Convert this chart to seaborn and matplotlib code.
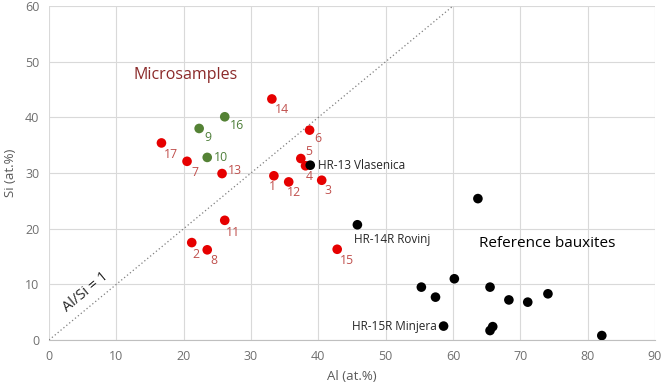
import pandas as pd
import numpy as np
import matplotlib
matplotlib.use("Agg")
from matplotlib import pyplot as plt
import seaborn as sns

# microsamples (red)
red_ids = ['1', '2', '3', '4', '5', '6', '7', '8', '11', '12', '13', '14', '15', '17']
red_al = [33.4, 21.2, 40.5, 38.1, 37.4, 38.7, 20.5, 23.5, 26.1, 35.6, 25.7, 33.1, 42.8, 16.7]
red_si = [29.5, 17.5, 28.7, 31.3, 32.6, 37.7, 32.1, 16.2, 21.5, 28.4, 29.9, 43.3, 16.3, 35.4]

# microsamples (green)
green_ids = ['9', '10', '16']
green_al = [22.3, 23.5, 26.1]
green_si = [38.0, 32.8, 40.1]

# reference bauxites
ref_names = ['HR-13 Vlasenica', 'HR-14R Rovinj', 'HR-15R Minjera',
             '', '', '', '', '', '', '', '', '', '', '']
ref_al = [38.8, 45.8, 58.6, 63.7, 55.3, 57.4, 60.2, 65.5, 68.3, 71.1, 74.1, 65.9, 65.5, 82.1]
ref_si = [31.4, 20.7, 2.5, 25.4, 9.5, 7.7, 11.0, 9.5, 7.2, 6.8, 8.3, 2.4, 1.7, 0.8]

# label offsets in pixels (dx, dy up-positive)
red_off = {'1': (-1, -11), '2': (4, -12), '3': (6, -10), '4': (4, -11), '5': (8, 7),
           '6': (8, -8), '7': (8, -11), '8': (7, -11), '11': (8, -12), '12': (5, -11),
           '13': (13, 3), '14': (10, -11), '15': (10, -11), '17': (9, -12)}
green_off = {'9': (9, -9), '10': (14, 0), '16': (12, -9)}

df = pd.concat([
    pd.DataFrame({'Al': red_al, 'Si': red_si, 'grp': 'red'}),
    pd.DataFrame({'Al': green_al, 'Si': green_si, 'grp': 'green'}),
    pd.DataFrame({'Al': ref_al, 'Si': ref_si, 'grp': 'ref'}),
])

sns.set_style('white')
plt.rcParams['font.family'] = ['Open Sans', 'DejaVu Sans']

fig = plt.figure(figsize=(6.62, 3.92), dpi=100)
ax = fig.add_axes([49 / 662, 1 - 340 / 392, 606 / 662, 334 / 392])

ax.plot([0, 60], [0, 60], color='#7f7f7f', linestyle=(0, (1, 2)), linewidth=0.9, zorder=1)

sns.scatterplot(data=df, x='Al', y='Si', hue='grp',
                palette={'red': '#e60000', 'green': '#548235', 'ref': '#000000'},
                s=48, edgecolor='none', legend=False, ax=ax, zorder=3)

for lab, x, y in zip(red_ids, red_al, red_si):
    dx, dy = red_off[lab]
    ax.annotate(lab, (x, y), xytext=(dx, dy), textcoords='offset pixels',
                ha='center', va='center', fontsize=8.8, color='#c0504d')
for lab, x, y in zip(green_ids, green_al, green_si):
    dx, dy = green_off[lab]
    ax.annotate(lab, (x, y), xytext=(dx, dy), textcoords='offset pixels',
                ha='center', va='center', fontsize=8.8, color='#4e7f3a')

ax.annotate(ref_names[0], (ref_al[0], ref_si[0]), xytext=(8, 0), textcoords='offset pixels',
            ha='left', va='center', fontsize=8.5, color='#262626')
ax.annotate(ref_names[1], (ref_al[1], ref_si[1]), xytext=(-3, -15), textcoords='offset pixels',
            ha='left', va='center', fontsize=8.5, color='#262626')
ax.annotate(ref_names[2], (ref_al[2], ref_si[2]), xytext=(-7, 0), textcoords='offset pixels',
            ha='right', va='center', fontsize=8.5, color='#262626')

ax.text(20.3, 47.6, 'Microsamples', ha='center', va='center', fontsize=11.5, color='#8b2a2a')
ax.text(74.0, 17.4, 'Reference bauxites', ha='center', va='center', fontsize=11, color='#000000')
ax.text(5.5, 8.6, 'Al/Si = 1', ha='center', va='center', fontsize=10.5, color='#262626',
        rotation=39.6, rotation_mode='anchor')

ax.set_xlim(0, 90)
ax.set_ylim(0, 60)
ax.set_xticks(range(0, 91, 10))
ax.set_yticks(range(0, 61, 10))
ax.grid(True, color='#d9d9d9', linewidth=0.8)
ax.set_axisbelow(True)
for side in ['top', 'right', 'left']:
    ax.spines[side].set_visible(False)
ax.spines['bottom'].set_color('#bfbfbf')
ax.tick_params(axis='both', length=0, labelsize=9, labelcolor='#6f6f6f', pad=7)
ax.set_xlabel('Al (at.%)', fontsize=9.5, color='#595959', labelpad=5)
ax.set_ylabel('Si (at.%)', fontsize=9.5, color='#595959', labelpad=6)

fig.savefig('out.png', dpi=100)
